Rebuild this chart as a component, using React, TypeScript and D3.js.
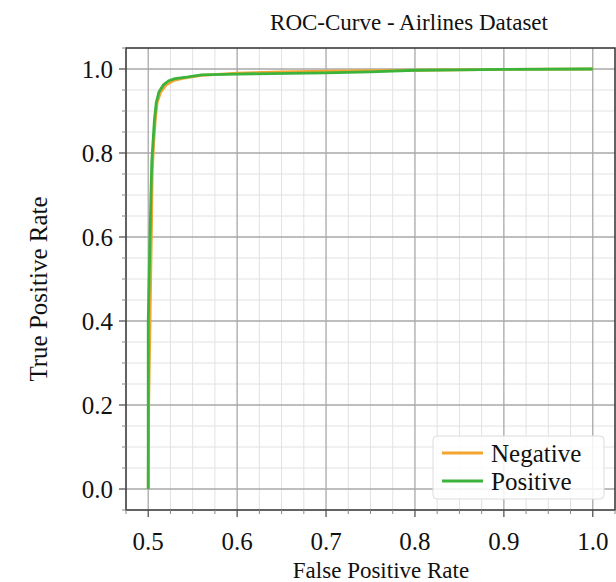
import React from "react";
import * as d3 from "d3";

const negativeFPR = [0.5, 0.5005, 0.502, 0.5035, 0.5045, 0.506, 0.508, 0.51, 0.514, 0.52, 0.528, 0.54, 0.56, 0.6, 0.65, 0.7, 0.8, 0.9, 1.0];
const negativeTPR = [0.0, 0.2, 0.4, 0.6, 0.75, 0.82, 0.88, 0.92, 0.945, 0.962, 0.972, 0.978, 0.985, 0.99, 0.993, 0.995, 0.997, 0.999, 1.0];

const positiveFPR = [0.5, 0.5, 0.5015, 0.503, 0.504, 0.5055, 0.507, 0.509, 0.512, 0.517, 0.523, 0.53, 0.545, 0.56, 0.6, 0.7, 0.75, 0.8, 0.85, 0.9, 1.0];
const positiveTPR = [0.0, 0.4, 0.55, 0.7, 0.78, 0.83, 0.88, 0.92, 0.945, 0.962, 0.972, 0.977, 0.981, 0.986, 0.988, 0.991, 0.993, 0.997, 0.998, 0.999, 1.0];

const xTicks = [0.5, 0.6, 0.7, 0.8, 0.9, 1.0];
const yTicks = [0.0, 0.2, 0.4, 0.6, 0.8, 1.0];
const seriesNames = ["Negative", "Positive"];
const seriesColors = ["#f2a531", "#3cb43c"];

const W = 616;
const H = 582;
const left = 126, right = 615, top = 48, bottom = 510;
const font = "'Liberation Serif', 'Times New Roman', serif";

export default function App() {
  const x = d3.scaleLinear().domain([0.475, 1.025]).range([left, right]);
  const y = d3.scaleLinear().domain([-0.05, 1.05]).range([bottom, top]);

  const xMinor = d3.range(0.475, 1.0251, 0.025).filter((v) => !xTicks.some((t) => Math.abs(t - v) < 1e-6));
  const yMinor = d3.range(-0.05, 1.0501, 0.05).filter((v) => !yTicks.some((t) => Math.abs(t - v) < 1e-6));

  const line = d3.line<[number, number]>().x((d) => x(d[0])).y((d) => y(d[1]));
  const negData: [number, number][] = negativeFPR.map((v, i) => [v, negativeTPR[i]]);
  const posData: [number, number][] = positiveFPR.map((v, i) => [v, positiveTPR[i]]);
  const series = [negData, posData];

  const legX = 433, legY = 436, legW = 171, legH = 63;

  return (
    <svg width={W} height={H} style={{ position: "absolute", left: 0, top: 0, background: "#fff" }} fontFamily={font}>
      <rect x={0} y={0} width={W} height={H} fill="#fff" />
      {xMinor.map((v, i) => (
        <line key={"xm" + i} x1={x(v)} x2={x(v)} y1={top} y2={bottom} stroke="#e2e2e2" strokeWidth={1} />
      ))}
      {yMinor.map((v, i) => (
        <line key={"ym" + i} y1={y(v)} y2={y(v)} x1={left} x2={right} stroke="#e2e2e2" strokeWidth={1} />
      ))}
      {xTicks.map((v, i) => (
        <line key={"xg" + i} x1={x(v)} x2={x(v)} y1={top} y2={bottom} stroke="#a8a8a8" strokeWidth={1.3} />
      ))}
      {yTicks.map((v, i) => (
        <line key={"yg" + i} y1={y(v)} y2={y(v)} x1={left} x2={right} stroke="#a8a8a8" strokeWidth={1.3} />
      ))}
      {series.map((d, i) => (
        <path key={"s" + i} d={line(d) || ""} fill="none" stroke={seriesColors[i]} strokeWidth={2.8} strokeLinejoin="round" />
      ))}
      <rect x={left} y={top} width={right - left} height={bottom - top} fill="none" stroke="#333" strokeWidth={1.5} />
      {xTicks.map((v, i) => (
        <g key={"xt" + i}>
          <line x1={x(v)} x2={x(v)} y1={bottom} y2={bottom + 7} stroke="#555" strokeWidth={1.3} />
          <text x={x(v)} y={550} textAnchor="middle" fontSize={25} fill="#111">{v.toFixed(1)}</text>
        </g>
      ))}
      {xMinor.map((v, i) => (
        <line key={"xmt" + i} x1={x(v)} x2={x(v)} y1={bottom} y2={bottom + 4} stroke="#888" strokeWidth={1} />
      ))}
      {yTicks.map((v, i) => (
        <g key={"yt" + i}>
          <line x1={left - 7} x2={left} y1={y(v)} y2={y(v)} stroke="#555" strokeWidth={1.3} />
          <text x={113} y={y(v) + 8.5} textAnchor="end" fontSize={25} fill="#111">{v.toFixed(1)}</text>
        </g>
      ))}
      {yMinor.map((v, i) => (
        <line key={"ymt" + i} x1={left - 4} x2={left} y1={y(v)} y2={y(v)} stroke="#888" strokeWidth={1} />
      ))}
      <text x={409} y={30} textAnchor="middle" fontSize={23} fill="#111">ROC-Curve - Airlines Dataset</text>
      <text x={381} y={578} textAnchor="middle" fontSize={23} fill="#111">False Positive Rate</text>
      <text transform={`translate(47, ${(top + bottom) / 2 + 10}) rotate(-90)`} textAnchor="middle" fontSize={25} fill="#111">True Positive Rate</text>
      <rect x={legX} y={legY} width={legW} height={legH} rx={4} fill="#fff" fillOpacity={0.85} stroke="#dcdcdc" strokeWidth={1} />
      {seriesNames.map((n, i) => (
        <g key={"lg" + i}>
          <line x1={442} x2={483} y1={453 + i * 28} y2={453 + i * 28} stroke={seriesColors[i]} strokeWidth={2.8} />
          <text x={491} y={453 + i * 28 + 8.5} fontSize={25} fill="#111">{n}</text>
        </g>
      ))}
    </svg>
  );
}
